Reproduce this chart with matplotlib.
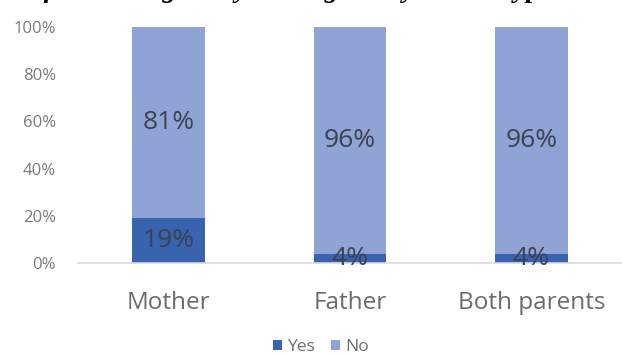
import matplotlib
matplotlib.use("Agg")
import matplotlib.pyplot as plt
import numpy as np

# donnees
categories = ["Mother", "Father", "Both parents"]
oui = [19, 4, 4]
non = [81, 96, 96]
yticks = [0, 20, 40, 60, 80, 100]

couleur_oui = "#3763AF"
couleur_non = "#8FA4D4"

plt.rcParams["font.family"] = ["Open Sans", "DejaVu Sans"]

fig = plt.figure(figsize=(6.22, 3.56), dpi=100)
ax = fig.add_axes([78 / 622, 1 - 263 / 356, 1 - 78 / 622, (263 - 27) / 356])

x = np.arange(len(categories))
b1 = ax.bar(x, oui, 0.4, color=couleur_oui, label="Yes")
b2 = ax.bar(x, non, 0.4, bottom=oui, color=couleur_non, label="No")

# etiquettes au centre de chaque segment
for i in range(len(categories)):
    ax.text(x[i], oui[i] / 2, str(oui[i]) + "%", ha="center", va="center",
            fontsize=19, color="#3B414E")
    ax.text(x[i], oui[i] + non[i] / 2, str(non[i]) + "%", ha="center", va="center",
            fontsize=19, color="#3B414E")

ax.set_xlim(-0.5, 2.5)
ax.set_ylim(0, 100)
ax.set_yticks(yticks)
ax.set_yticklabels([str(v) + "%" for v in yticks], fontsize=12, color="#7A7A7A")
ax.set_xticks(x)
ax.set_xticklabels(categories, fontsize=17.5, color="#6B6B6B")
ax.tick_params(axis="y", length=0, pad=16)
ax.tick_params(axis="x", length=0, pad=20)

for s in ["top", "right", "left"]:
    ax.spines[s].set_visible(False)
ax.spines["bottom"].set_color("#D9D9D9")
ax.spines["bottom"].set_linewidth(1.2)

fig.legend(handles=[b1, b2], loc="center", bbox_to_anchor=(321 / 622, 1 - 347 / 356),
           ncol=2, frameon=False, fontsize=12.5, labelcolor="#6B6B6B",
           handlelength=0.55, handleheight=0.55, handletextpad=0.3, columnspacing=0.9)

# titre (coupe en haut, seules les jambes des lettres depassent)
fig.text(-102 / 622, 1 - 3 / 356, "Proportion of kids being hit by a caregiver by abuser type",
         ha="left", va="bottom", fontsize=20, fontweight="bold", fontstyle="italic",
         family="Liberation Serif", color="black")

fig.savefig("out.png", dpi=100)
